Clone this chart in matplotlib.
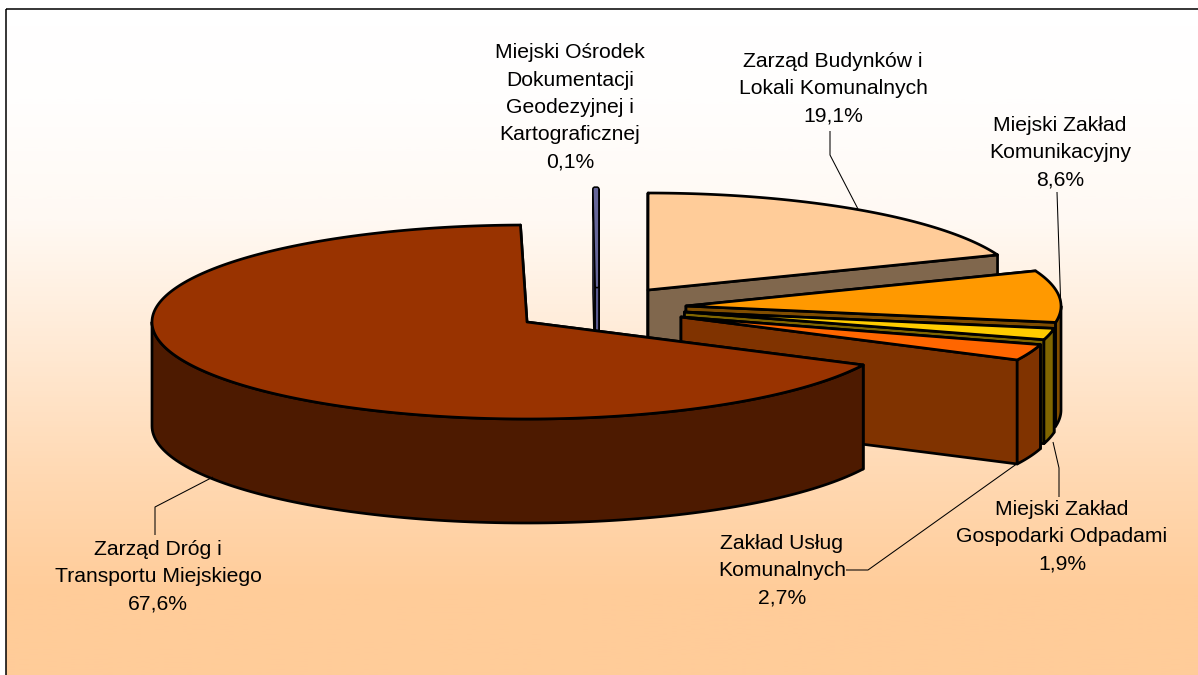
import numpy as np
import matplotlib
matplotlib.use("Agg")
import matplotlib.pyplot as plt
from matplotlib.patches import Polygon, Rectangle
from matplotlib.colors import LinearSegmentedColormap

# ---- data ----
units = [
    ["Miejski Ośrodek", "Dokumentacji", "Geodezyjnej i", "Kartograficznej"],
    ["Zarząd Budynków i", "Lokali Komunalnych"],
    ["Miejski Zakład", "Komunikacyjny"],
    ["Miejski Zakład", "Gospodarki Odpadami"],
    ["Zakład Usług", "Komunalnych"],
    ["Zarząd Dróg i", "Transportu Miejskiego"],
]
shares = [0.1, 19.1, 8.6, 1.9, 2.7, 67.6]

# ---- style / layout ----
top_colors = ["#666699", "#FFCC99", "#FF9900", "#FFCC00", "#FF6600", "#993300"]
side_colors = ["#333366", "#80674D", "#804D00", "#806600", "#803300", "#4D1A00"]
face_colors = ["#5A5A90", "#80674D", "#804D00", "#806600", "#803300", "#803300"]
centers = [(597, 286), (648, 290), (686, 306), (684.5, 312), (681, 317), (527, 322)]
label_pos = [(570, 107.5), (833, 88.5), (1060, 153), (1062, 536.5), (782, 571), (158, 576.5)]
leaders = [
    [(830, 131), (830, 155), (858, 209)],
    [(1057, 192), (1061, 312)],
    [(1053, 442), (1059, 468), (1059, 497)],
    [(1018, 463), (868, 570), (846, 570)],
    [(213, 477), (155, 507), (155, 535)],
]
RX, RY, DEPTH = 375, 97, 104
START = 90.35
LW = 1.95

fig = plt.figure(figsize=(11.98, 6.75), dpi=100)
ax = fig.add_axes([0, 0, 1, 1])
ax.axis("off")

# background gradient
cmap = LinearSegmentedColormap.from_list("bg", ["#FFFFFF", "#FFCC99"])
grad = np.interp(np.linspace(8, 675, 400),
                 [8, 100, 221, 348, 476, 595], [0, 0.02, 0.12, 0.42, 0.75, 1])[:, None]
ax.imshow(grad, cmap=cmap, vmin=0, vmax=1, extent=(5.5, 1198, 675, 8.5), aspect="auto", zorder=0)
ax.set_xlim(0, 1198)
ax.set_ylim(675, 0)
ax.add_patch(Rectangle((5.5, 8.5), 1300, 800, fill=False, ec="black", lw=1.1, zorder=1))


def pt(c, a):
    r = np.radians(a)
    return np.array([c[0] + RX * np.cos(r), c[1] - RY * np.sin(r)])


def arc(c, a0, a1, n=120):
    return np.array([pt(c, a) for a in np.linspace(a0, a1, n)])


z = 2


def poly(points, color, lw=LW, ec="black"):
    global z
    ax.add_patch(Polygon(points, closed=True, fc=color, ec=ec, lw=lw,
                         joinstyle="round", zorder=z))
    z += 1


angle = START
for i, share in enumerate(shares):
    a0 = angle
    a1 = angle - share * 3.6
    angle = a1
    if i == len(shares) - 1:
        a1 += 0.65   # main slice stops just short of the top
    c = np.array(centers[i], float)
    down = np.array([0, DEPTH])
    # radial faces
    for a in (a0, a1):
        p = pt(c, a)
        quad = [c, p, p + down, c + down]
        if i == 0:
            poly(quad, "black", lw=3.6)
            poly(quad, face_colors[i], lw=1.5, ec=face_colors[i])
        else:
            poly(quad, face_colors[i])
    # visible outer rim (front half of the ellipse)
    s0, s1 = max(a1, -180), min(a0, 0)
    if s1 > s0:
        rim = arc(c, s1, s0)
        poly(np.vstack([rim, (rim + down)[::-1]]), side_colors[i])
    # top surface
    wedge = np.vstack([c, arc(c, a0, a1, 240)])
    if i == 0:
        poly(wedge, "black", lw=3.6)
        poly(wedge, top_colors[i], lw=1.5, ec=top_colors[i])
    else:
        poly(wedge, top_colors[i])

for line in leaders:
    xs, ys = zip(*line)
    ax.plot(xs, ys, color="black", lw=0.75, zorder=z + 1, solid_capstyle="butt")

for name, share, (x, y) in zip(units, shares, label_pos):
    txt = "\n".join(name + [f"{share:.1f}%".replace(".", ",")])
    ax.text(x, y, txt, ha="center", va="center", ma="center", fontsize=15.2,
            family=["Liberation Sans", "DejaVu Sans"], linespacing=1.56, zorder=z + 2)

fig.savefig("out.png", dpi=100)
